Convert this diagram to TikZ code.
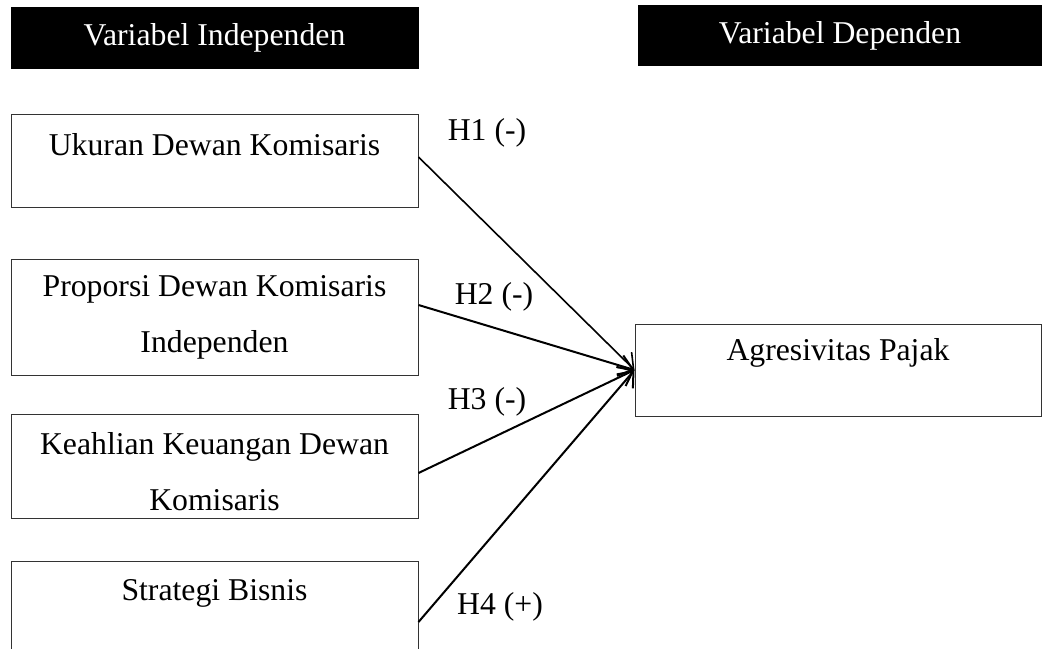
\documentclass[tikz,border=0pt]{standalone}
\usepackage{fontspec}
\setmainfont{Liberation Serif}
\usetikzlibrary{arrows.meta,calc}

\tikzset{
  hdr/.style={fill=black, text=white, inner sep=0pt},
  varbox/.style={draw=black!80, line width=0.75pt, minimum width=305.25pt, inner sep=0pt},
  txt/.style={align=center, inner sep=0pt},
  hyp/.style={inner sep=0pt},
  link/.style={line width=1.5pt, -{Straight Barb[length=10pt,width=16pt]}},
}

\begin{document}
\begin{tikzpicture}[x=0.75pt, y=-0.75pt, font=\fontsize{23.8}{42}\selectfont]
  \useasboundingbox (0,0) rectangle (1042,649);
  \clip (0,0) rectangle (1042,649);

  % headers
  \node[hdr, minimum width=306pt, minimum height=46.5pt] (indep) at (214.5,38) {Variabel Independen};
  \node[hdr, minimum width=303pt, minimum height=45.75pt] (dep) at (840,35.5) {Variabel Dependen};

  % independent variables
  \foreach \nm/\yc/\hh in {ukuran/161/92, proporsi/317/116, keahlian/466/104, strategi/607/92}
    \node[varbox, minimum height=0.75pt*\hh] (\nm) at (214.5,\yc) {};

  \node[txt] (ukuran-t) at (214.5,145) {Ukuran Dewan Komisaris};
  \node[txt] (proporsi-t) at (214.5,317.5) {Proporsi Dewan Komisaris\\Independen};
  \node[txt] (keahlian-t) at (214.5,471.5) {Keahlian Keuangan Dewan\\Komisaris};
  \node[txt] (strategi-t) at (214.5,593) {Strategi Bisnis};

  % dependent variable
  \node[varbox, minimum width=304.5pt, minimum height=69pt] (agresivitas) at (838,370) {};
  \node[txt] (agresivitas-t) at (838,353) {Agresivitas Pajak};

  % hypotheses
  \draw[link, line width=1.2pt] ($(ukuran.east)+(0,-4)$) -- (agresivitas.west);
  \draw[link] ($(proporsi.east)+(0,-12)$) -- (agresivitas.west);
  \draw[link] ($(keahlian.east)+(0,7)$) -- (agresivitas.west);
  \draw[link] ($(strategi.east)+(0,15)$) -- (agresivitas.west);

  \node[hyp] (h1) at (487,133) {H1 (-)};
  \node[hyp] (h2) at (494,297) {H2 (-)};
  \node[hyp] (h3) at (487,402) {H3 (-)};
  \node[hyp] (h4) at (500,607) {H4 (+)};
\end{tikzpicture}
\end{document}
